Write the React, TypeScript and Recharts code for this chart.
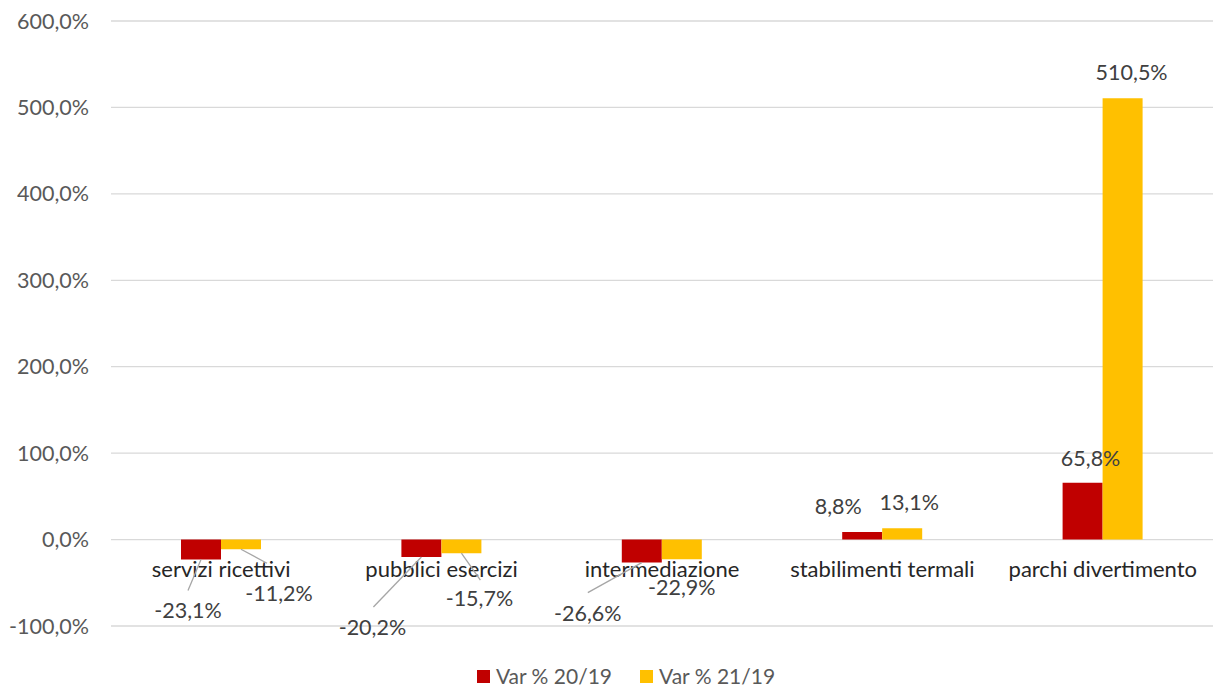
import React from "react"
import { BarChart, Bar, XAxis, YAxis, CartesianGrid, Legend, LabelList } from "recharts"

const categories = ["servizi ricettivi", "pubblici esercizi", "intermediazione", "stabilimenti termali", "parchi divertimento"]
const var2019 = [-23.1, -20.2, -26.6, 8.8, 65.8]
const var2119 = [-11.2, -15.7, -22.9, 13.1, 510.5]
const yTicks = [-100, 0, 100, 200, 300, 400, 500, 600]
const seriesNames = { a: "Var % 20/19", b: "Var % 21/19" }

const data = categories.map((cat, i) => ({ cat, a: var2019[i], b: var2119[i] }))

const W = 1213
const H = 687
const TOP = 21
const BOTTOM = 626
const ZERO_Y = TOP + ((600 - 0) / 700) * (BOTTOM - TOP)
const FONT = "Lato, 'Noto Sans', sans-serif"
const RED = "#C00000"
const YELLOW = "#FFC000"

// where Excel dragged the data labels (relative to bar end)
const labelOffsets: Record<string, number[][]> = {
  a: [[-13, 50], [-49, 70], [-54, 50], [-24, -26], [8, -25]],
  b: [[38, 44], [18, 45], [0, 28], [7, -26], [9, -26]],
}
// leader line end, relative to the label centre (null = no leader)
const leaders: Record<string, (number[] | null)[]> = {
  a: [[0, -19], [1, -20], [0, -20], null, null],
  b: [[-12, -30], [1, -18], null, null, null],
}

const fmt = (v: number, digits: number) => v.toFixed(digits).replace(".", ",") + "%"

function makeLabel(key: string) {
  return (props: any) => {
    const x = Number(props.x), y = Number(props.y)
    const width = Number(props.width), height = Number(props.height)
    const value = Number(props.value)
    const index = props.index
    const top = Math.min(y, y + height)
    const bot = Math.max(y, y + height)
    const bx = x + width / 2
    const by = value < 0 ? bot : top
    const [dx, dy] = labelOffsets[key][index]
    const lx = bx + dx
    const ly = by + dy
    const le = leaders[key][index]
    return (
      <g>
        {le && <line x1={bx} y1={by} x2={lx + le[0]} y2={ly + le[1]} stroke="#a6a6a6" strokeWidth={1.3} />}
        <text x={lx} y={ly} textAnchor="middle" dominantBaseline="central" fill="#404040" fontSize={21.5} fontFamily={FONT}>
          {fmt(value, 1)}
        </text>
      </g>
    )
  }
}

function CategoryTick({ x, payload }: any) {
  return (
    <text x={x} y={ZERO_Y + 37} textAnchor="middle" fill="#262626" fontSize={22} fontFamily={FONT}>
      {payload.value}
    </text>
  )
}

function LegendContent() {
  const items = [
    { name: seriesNames.a, color: RED },
    { name: seriesNames.b, color: YELLOW },
  ]
  return (
    <div style={{ display: "flex", justifyContent: "center", alignItems: "center", height: 26, lineHeight: "26px", paddingLeft: 38, fontFamily: FONT, fontSize: 21, color: "#595959" }}>
      {items.map((it) => (
        <div key={it.name} style={{ display: "flex", alignItems: "center", margin: "0 14px" }}>
          <span style={{ width: 13, height: 13, background: it.color, display: "inline-block", marginRight: 6 }} />
          <span>{it.name}</span>
        </div>
      ))}
    </div>
  )
}

export default function App() {
  return (
    <div style={{ position: "absolute", left: 0, top: 0, width: W, height: H, background: "#fff" }}>
      <BarChart width={W} height={H} data={data} margin={{ top: TOP, right: 0, left: 1, bottom: 33 }} barGap={0}>
        <CartesianGrid vertical={false} stroke="#d9d9d9" strokeWidth={1.3} />
        <XAxis dataKey="cat" axisLine={false} tickLine={false} height={2} tick={<CategoryTick />} interval={0} />
        <YAxis
          width={110}
          domain={[-100, 600]}
          ticks={yTicks}
          axisLine={false}
          tickLine={false}
          tickSize={0}
          tickMargin={22}
          tickFormatter={(v: number) => fmt(v, 1)}
          tick={{ fill: "#595959", fontSize: 21.5, fontFamily: FONT }}
        />
        <Legend verticalAlign="bottom" content={<LegendContent />} wrapperStyle={{ bottom: -2 }} />
        <Bar dataKey="a" name={seriesNames.a} fill={RED} barSize={40} isAnimationActive={false}>
          <LabelList dataKey="a" content={makeLabel("a")} />
        </Bar>
        <Bar dataKey="b" name={seriesNames.b} fill={YELLOW} barSize={40} isAnimationActive={false}>
          <LabelList dataKey="b" content={makeLabel("b")} />
        </Bar>
      </BarChart>
    </div>
  )
}
